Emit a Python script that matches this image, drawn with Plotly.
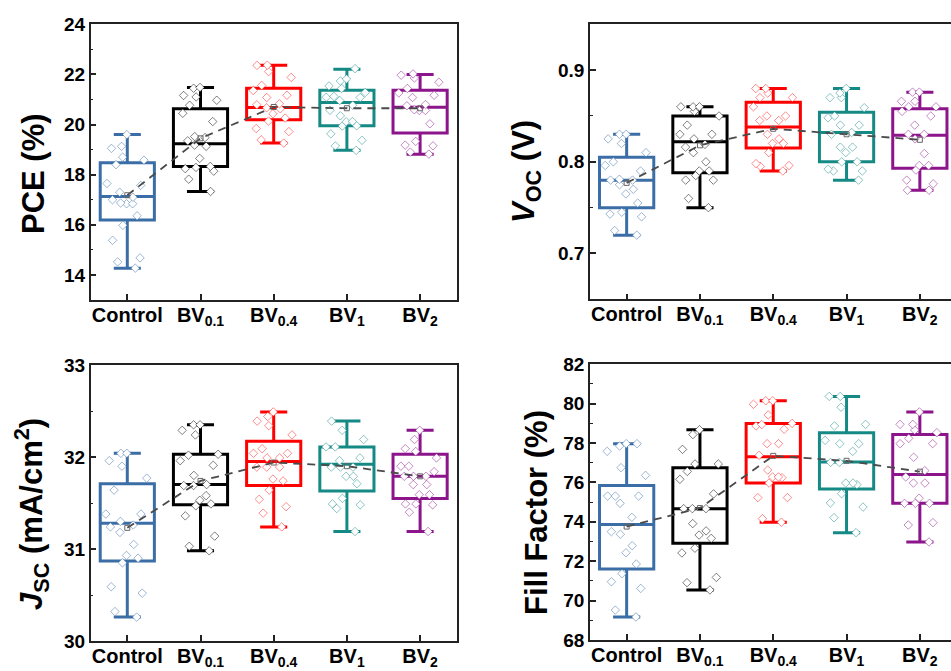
import plotly.graph_objects as go

# ---------------- data ----------------
groups = ["Control", "BV<sub>0.1</sub>", "BV<sub>0.4</sub>", "BV<sub>1</sub>", "BV<sub>2</sub>"]
colors = ["#3B6EA6", "#000000", "#FF0000", "#158A85", "#8C158C"]
pt_colors = ["rgba(59,110,166,0.5)", "rgba(0,0,0,0.5)", "rgba(255,0,0,0.45)",
             "rgba(21,138,133,0.5)", "rgba(140,21,140,0.5)"]

# PCE (%)
pce_min = [14.27, 17.33, 19.26, 18.97, 18.82]
pce_q1 = [16.19, 18.33, 20.19, 19.95, 19.66]
pce_med = [17.13, 19.23, 20.68, 20.88, 20.69]
pce_q3 = [18.48, 20.63, 21.45, 21.37, 21.37]
pce_max = [19.60, 21.48, 22.37, 22.21, 22.00]
pce_mean = [17.18, 19.45, 20.70, 20.65, 20.65]
pce_pts = [
    [19.6, 19.13, 19.05, 18.7, 18.58, 18.4, 17.65, 17.57, 17.3, 17.1, 17.0, 16.87, 16.84, 16.84, 16.36, 15.98, 15.38, 14.68, 14.52, 14.27],
    [21.48, 21.45, 21.16, 21.1, 20.97, 20.77, 20.45, 20.12, 19.52, 19.48, 19.35, 19.18, 19.13, 18.65, 18.33, 18.29, 18.24, 18.14, 17.82, 17.33],
    [22.37, 22.36, 22.11, 21.88, 21.56, 21.36, 21.17, 21.08, 20.83, 20.79, 20.67, 20.63, 20.43, 20.26, 20.14, 19.84, 19.72, 19.39, 19.26],
    [22.23, 21.82, 21.74, 21.54, 21.44, 21.28, 21.12, 21.09, 21.08, 20.96, 20.77, 20.57, 20.35, 20.12, 20.11, 19.95, 19.94, 19.63, 19.37, 19.15, 18.97],
    [22.02, 21.97, 21.86, 21.69, 21.44, 21.26, 21.17, 21.08, 20.8, 20.75, 20.59, 20.56, 20.56, 20.03, 19.33, 19.18, 19.15, 18.9, 18.82],
]

# Voc (V)
voc_min = [0.720, 0.750, 0.790, 0.780, 0.769]
voc_q1 = [0.750, 0.788, 0.815, 0.800, 0.793]
voc_med = [0.780, 0.822, 0.838, 0.832, 0.829]
voc_q3 = [0.805, 0.850, 0.865, 0.854, 0.858]
voc_max = [0.830, 0.860, 0.880, 0.880, 0.876]
voc_mean = [0.777, 0.818, 0.836, 0.830, 0.824]
voc_pts = [
    [0.830, 0.830, 0.825, 0.820, 0.810, 0.800, 0.796, 0.790, 0.781, 0.780, 0.780, 0.775, 0.770, 0.765, 0.755, 0.745, 0.743, 0.740, 0.725, 0.720],
    [0.860, 0.860, 0.860, 0.855, 0.850, 0.840, 0.830, 0.830, 0.825, 0.819, 0.816, 0.810, 0.800, 0.790, 0.790, 0.785, 0.780, 0.780, 0.760, 0.750],
    [0.880, 0.880, 0.875, 0.870, 0.870, 0.860, 0.850, 0.850, 0.845, 0.845, 0.830, 0.825, 0.820, 0.820, 0.810, 0.798, 0.796, 0.795, 0.790],
    [0.880, 0.875, 0.870, 0.870, 0.859, 0.850, 0.848, 0.840, 0.840, 0.832, 0.830, 0.816, 0.816, 0.810, 0.800, 0.800, 0.792, 0.790, 0.790, 0.780],
    [0.876, 0.876, 0.866, 0.866, 0.860, 0.860, 0.855, 0.850, 0.840, 0.830, 0.830, 0.825, 0.809, 0.796, 0.796, 0.791, 0.780, 0.776, 0.769, 0.769],
]

# Jsc (mA/cm2)
jsc_min = [30.26, 30.98, 31.24, 31.19, 31.19]
jsc_q1 = [30.87, 31.48, 31.69, 31.63, 31.55]
jsc_med = [31.28, 31.70, 31.95, 31.92, 31.79]
jsc_q3 = [31.71, 32.03, 32.17, 32.11, 32.03]
jsc_max = [32.04, 32.35, 32.49, 32.39, 32.29]
jsc_mean = [31.23, 31.74, 31.94, 31.90, 31.79]
jsc_pts = [
    [32.04, 32.04, 31.96, 31.90, 31.77, 31.64, 31.38, 31.38, 31.30, 31.26, 31.24, 31.18, 31.05, 30.93, 30.90, 30.85, 30.59, 30.52, 30.32, 30.26],
    [32.35, 32.35, 32.29, 32.24, 32.03, 32.02, 31.96, 31.91, 31.80, 31.70, 31.69, 31.69, 31.58, 31.53, 31.49, 31.47, 31.36, 31.14, 31.03, 30.98],
    [32.49, 32.44, 32.39, 32.34, 32.24, 32.09, 32.04, 32.04, 31.99, 31.99, 31.89, 31.89, 31.89, 31.76, 31.74, 31.64, 31.54, 31.46, 31.39, 31.24],
    [32.39, 32.29, 32.19, 32.11, 32.11, 31.99, 31.96, 31.89, 31.89, 31.89, 31.79, 31.79, 31.71, 31.55, 31.49, 31.48, 31.44, 31.19],
    [32.29, 32.19, 32.09, 32.06, 31.99, 31.90, 31.90, 31.84, 31.79, 31.79, 31.79, 31.70, 31.70, 31.59, 31.59, 31.49, 31.49, 31.48, 31.40, 31.19],
]

# Fill factor (%)
ff_min = [69.17, 70.54, 73.98, 73.45, 72.98]
ff_q1 = [71.61, 72.91, 75.97, 75.67, 74.94]
ff_med = [73.86, 74.67, 77.31, 77.04, 76.41]
ff_q3 = [75.84, 76.75, 79.00, 78.53, 78.44]
ff_max = [77.97, 78.68, 80.15, 80.37, 79.58]
ff_mean = [73.76, 74.70, 77.35, 77.10, 76.55]
ff_pts = [
    [77.97, 77.97, 77.85, 77.58, 76.75, 76.36, 75.31, 75.31, 75.31, 74.94, 74.23, 73.5, 73.37, 72.79, 72.43, 71.86, 71.37, 70.96, 70.62, 69.52, 69.17],
    [78.68, 78.43, 77.68, 76.94, 76.94, 76.56, 76.16, 75.42, 74.67, 74.67, 74.67, 73.91, 73.54, 73.33, 73.16, 72.66, 72.42, 71.18, 70.91, 70.54],
    [80.15, 80.15, 79.97, 79.43, 79.0, 78.94, 78.87, 78.70, 77.97, 77.97, 77.38, 76.63, 76.28, 76.28, 76.24, 75.97, 75.23, 75.23, 74.16, 73.98],
    [80.37, 80.37, 79.82, 78.95, 78.87, 78.14, 77.97, 77.97, 77.58, 77.02, 77.02, 75.97, 75.97, 75.89, 75.43, 74.96, 74.75, 74.21, 73.45],
    [79.58, 78.95, 78.95, 78.66, 78.53, 78.24, 77.97, 77.97, 77.28, 76.6, 76.28, 75.97, 75.97, 75.2, 74.94, 74.94, 74.94, 73.96, 73.84, 72.98],
]

panels = [
    dict(mn=pce_min, q1=pce_q1, med=pce_med, q3=pce_q3, mx=pce_max, mean=pce_mean, pts=pce_pts,
         yrange=[13, 24], dtick=2, tick0=14, title="PCE (%)"),
    dict(mn=voc_min, q1=voc_q1, med=voc_med, q3=voc_q3, mx=voc_max, mean=voc_mean, pts=voc_pts,
         yrange=[0.65, 0.95], dtick=0.1, tick0=0.7, title="<i>V</i><sub>OC</sub> (V)"),
    dict(mn=jsc_min, q1=jsc_q1, med=jsc_med, q3=jsc_q3, mx=jsc_max, mean=jsc_mean, pts=jsc_pts,
         yrange=[30, 33], dtick=1, tick0=30, title="<i>J</i><sub>SC</sub> (mA/cm<sup>2</sup>)"),
    dict(mn=ff_min, q1=ff_q1, med=ff_med, q3=ff_q3, mx=ff_max, mean=ff_mean, pts=ff_pts,
         yrange=[68, 82], dtick=2, tick0=68, title="Fill Factor (%)"),
]

W, H = 951, 671
# panel pixel frames: (left, right, top, bottom)
frames = [(90.7, 456.7, 24.3, 300.0), (590.0, 951.0, 24.3, 299.3),
          (90.7, 456.7, 365.0, 641.0), (590.0, 951.0, 364.3, 640.0)]
title_pos = [(33, 174), (526, 172), (31, 514), (536, 513)]
cat_step = [73.2, 73.3, 73.2, 73.3]

fig = go.Figure()
font_fam = "Liberation Sans, Arial, sans-serif"

for p, (pan, fr) in enumerate(zip(panels, frames)):
    xa = "x" if p == 0 else f"x{p+1}"
    ya = "y" if p == 0 else f"y{p+1}"
    for i in range(5):
        fig.add_trace(go.Box(
            x=[i], q1=[pan["q1"][i]], median=[pan["med"][i]], q3=[pan["q3"][i]],
            lowerfence=[pan["mn"][i]], upperfence=[pan["mx"][i]],
            width=0.74, whiskerwidth=0.5, line=dict(color=colors[i], width=3),
            fillcolor="rgba(0,0,0,0)", boxpoints=False, showlegend=False,
            xaxis=xa, yaxis=ya, hoverinfo="skip"))
    fig.add_trace(go.Scatter(
        x=list(range(5)), y=pan["mean"], mode="lines+markers",
        line=dict(color="#4a4a4a", width=1.8, dash="8px,6px"),
        marker=dict(symbol="square-open", size=5, color="#666666"),
        showlegend=False, xaxis=xa, yaxis=ya, hoverinfo="skip"))
    for i in range(5):
        fig.add_trace(go.Box(
            x0=i, y=pan["pts"][i], width=0.74, boxpoints="all", jitter=0.85, pointpos=0,
            line=dict(width=0, color="rgba(0,0,0,0)"), fillcolor="rgba(0,0,0,0)",
            marker=dict(symbol="diamond", size=6.5, color="white",
                        line=dict(color=pt_colors[i], width=1)),
            showlegend=False, xaxis=xa, yaxis=ya, hoverinfo="skip"))

    l, r, t, b = fr
    right_cut = r >= W
    xr_hi = 4.5 if not right_cut else -0.5 + (r - l) / cat_step[p]
    xkey = "xaxis" if p == 0 else f"xaxis{p+1}"
    ykey = "yaxis" if p == 0 else f"yaxis{p+1}"
    fig.update_layout(**{
        xkey: dict(domain=[l / W, min(r / W, 1.0)], range=[-0.5, xr_hi], anchor=ya,
                   tickvals=list(range(5)), ticktext=groups, ticks="inside", ticklen=6,
                   tickwidth=1.5, tickcolor="#222", showline=True, linecolor="#222",
                   linewidth=1.5, mirror=True, showgrid=False, zeroline=False,
                   automargin=False, ticklabelstandoff=-4,
                   tickfont=dict(family=font_fam, size=20, color="black", weight="bold")),
        ykey: dict(domain=[1 - b / H, 1 - t / H], range=pan["yrange"], anchor=xa,
                   tick0=pan["tick0"], dtick=pan["dtick"], ticks="inside", ticklen=6,
                   tickwidth=1.5, tickcolor="#222", showline=True, linecolor="#222",
                   linewidth=1.5, mirror=(not right_cut), showgrid=False, zeroline=False,
                   automargin=False,
                   minor=dict(dtick=pan["dtick"] / 2, ticks="inside", ticklen=3,
                              tickwidth=1.2, tickcolor="#222", showgrid=False),
                   tickfont=dict(family=font_fam, size=19, color="black", weight="bold")),
    })
    tx, ty = title_pos[p]
    fig.add_annotation(x=tx / W, y=1 - ty / H, xref="paper", yref="paper",
                       text=pan["title"], textangle=-90, showarrow=False,
                       xanchor="center", yanchor="middle",
                       font=dict(family=font_fam, size=31, color="black", weight="bold"))

fig.update_layout(width=W, height=H, margin=dict(l=0, r=0, t=0, b=0),
                  paper_bgcolor="white", plot_bgcolor="white", boxmode="overlay",
                  showlegend=False)

fig.write_html("out.html")
